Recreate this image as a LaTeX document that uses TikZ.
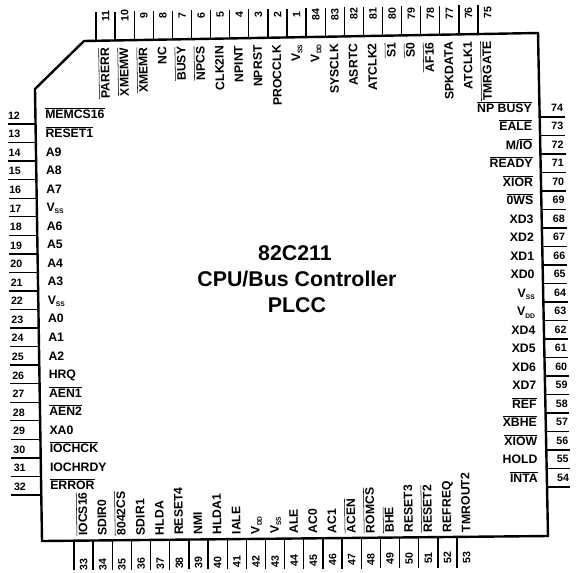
\documentclass[tikz,border=0pt]{standalone}
\usepackage{fontspec}
\setmainfont{Liberation Sans}
\usepackage{tikz}
\usetikzlibrary{calc}

\newcommand{\nbar}[1]{$\overline{\mbox{#1}}$}
\newcommand{\vsub}[1]{V\raisebox{-0.35ex}{\fontsize{5}{5}\selectfont #1}}

\tikzset{
    pinline/.style={black, line width=1pt},
    chipline/.style={black, line width=1.8pt, line join=miter},
    pinnum/.style={inner sep=0, font=\bfseries\fontsize{8}{8}\selectfont, text height=5.7pt, text depth=0pt},
    pinname/.style={inner sep=0, font=\bfseries\fontsize{9.2}{9.2}\selectfont, text height=6.6pt, text depth=0pt},
    chiptitle/.style={inner sep=0, font=\bfseries\fontsize{16}{16}\selectfont}
}

\begin{document}
\begin{tikzpicture}[x=0.75pt, y=-0.75pt]
            \useasboundingbox (0,0) rectangle (577,572);

            \coordinate (NWa) at (84,41);
            \coordinate (NE) at (538,33);
            \coordinate (SE) at (548,536);
            \coordinate (SW) at (42,541);
            \coordinate (NWb) at (35,89);

            % chip outline
            \draw[chipline]
                (NWa) -- (NE) -- (SE) -- (SW) -- (NWb) -- cycle;

            % top pins
            \foreach \i/\lname [count=\k from 0] in {11/\nbar{PARERR},10/\nbar{XMEMW},9/\nbar{XMEMR},8/NC,7/\nbar{BUSY},6/\nbar{NPCS},5/CLK2IN,4/NPINT,3/NPRST,2/PROCCLK,1/\vsub{SS},84/\vsub{DD},83/SYSCLK,82/ASRTC,81/ATCLK2,80/\nbar{S1},79/\nbar{S0},78/\nbar{AF16},77/SPKDATA,76/ATCLK1,75/\nbar{TMRGATE}}
            {
                \pgfmathsetmacro{\lx}{96+\k*19.1}
                \pgfmathsetmacro{\yo}{41-(\lx-84)*0.0176}
                \coordinate (a\i) at (\lx,\yo);
                \coordinate (b\i) at (\lx,{12-(\lx-96)*0.0183});
                \draw[pinline] (a\i) -- (b\i);
                \node[pinnum, rotate=91] (num\i) at (\lx+9.5,{16-(\lx-96)*0.008}) {\i};
                \node[pinname, rotate=91, anchor=east] (sig\i) at (\lx+8.5,\yo+7) {\lname};
            }

            % bottom pins
            \foreach \i/\lname [count=\k from 0] in {33/\nbar{IOCS16},34/SDIR0,35/\nbar{8042CS},36/SDIR1,37/HLDA,38/RESET4,39/NMI,40/HLDA1,41/IALE,42/\vsub{DD},43/\vsub{SS},44/ALE,45/AC0,46/AC1,47/\nbar{ACEN},48/\nbar{ROMCS},49/\nbar{BHE},50/RESET3,51/\nbar{RESET2},52/REFREQ,53/TMROUT2}
            {
                \pgfmathsetmacro{\lx}{74+\k*19.15}
                \pgfmathsetmacro{\yo}{541-(\lx-42)*0.0099}
                \coordinate (a\i) at (\lx,\yo);
                \coordinate (b\i) at (\lx,{570-(\lx-74)*0.005});
                \draw[pinline] (a\i) -- (b\i);
                \node[pinnum, rotate=91] (num\i) at (\lx+9.5,{565-(\lx-74)*0.02}) {\i};
                \node[pinname, rotate=91, anchor=west] (sig\i) at (\lx+9,\yo-4.5) {\lname};
            }

            % left pins
            \foreach \i/\lname in {12/\nbar{MEMCS16},13/\nbar{RESET1},14/A9,15/A8,16/A7,17/\vsub{SS},18/A6,19/A5,20/A4,21/A3,22/\vsub{SS},23/A0,24/A1,25/A2,26/HRQ,27/\nbar{AEN1},28/\nbar{AEN2},29/XA0,30/\nbar{IOCHCK},31/IOCHRDY,32/\nbar{ERROR}}
            {
                \pgfmathsetmacro{\ly}{124+(\i-12)*18.55}
                \coordinate (a\i) at ({35+(\ly-89)*0.0155},\ly);
                \coordinate (b\i) at ({8+(\i-12)*0.15},\ly);
                \draw[pinline] (a\i) -- (b\i);
                \node[pinnum] (num\i) at ({14+(\i-12)*0.3},\ly-8.5) {\i};
                \node[pinname, anchor=west] (sig\i) at ({45+(\i-12)*0.25},\ly-9.5) {\lname};
            }

            % right pins
            \foreach \i/\lname in {74/\nbar{NP BUSY},73/\nbar{EALE},72/{M/\nbar{IO}},71/\nbar{READY},70/\nbar{XIOR},69/\nbar{0WS},68/XD3,67/XD2,66/XD1,65/XD0,64/\vsub{SS},63/\vsub{DD},62/XD4,61/XD5,60/XD6,59/XD7,58/\nbar{REF},57/\nbar{XBHE},56/\nbar{XIOW},55/HOLD,54/\nbar{INTA}}
            {
                \pgfmathsetmacro{\ly}{117+(74-\i)*18.5}
                \coordinate (a\i) at ({538+(\ly-33)*0.0198},\ly);
                \coordinate (b\i) at ({565+(\ly-117)*0.0135},\ly);
                \draw[pinline] (a\i) -- (b\i);
                \node[pinnum] (num\i) at ({557+(74-\i)*0.3},\ly-9.5) {\i};
                \node[pinname, anchor=east] (sig\i) at ({532+(74-\i)*0.3},\ly-9) {\lname};
            }

            % centre text
            \node[chiptitle] (part) at (295,253) {82C211};
            \node[chiptitle] (title) at (297,279) {CPU/Bus Controller};
            \node[chiptitle] (case) at (297,305) {PLCC};
\end{tikzpicture}
\end{document}
